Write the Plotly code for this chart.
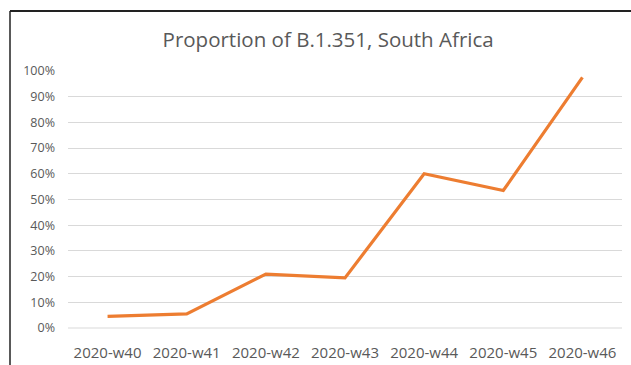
import plotly.graph_objects as go

weeks = ["2020-w40", "2020-w41", "2020-w42", "2020-w43", "2020-w44", "2020-w45", "2020-w46"]
proportion = [0.045, 0.055, 0.21, 0.195, 0.60, 0.535, 0.975]
y_ticks = [0, 0.1, 0.2, 0.3, 0.4, 0.5, 0.6, 0.7, 0.8, 0.9, 1.0]
y_tick_labels = ["0%", "10%", "20%", "30%", "40%", "50%", "60%", "70%", "80%", "90%", "100%"]

W, H = 631, 365
L, R, T, B = 68, 9, 71, 37

fig = go.Figure()
fig.add_trace(go.Scatter(
    x=weeks, y=proportion, mode="lines",
    line=dict(color="#ED7D31", width=3.2),
    showlegend=False,
))

font_family = "Open Sans, Liberation Sans, sans-serif"

fig.update_layout(
    width=W, height=H,
    margin=dict(l=L, r=R, t=T, b=B),
    paper_bgcolor="white", plot_bgcolor="white",
    title=dict(
        text="Proportion of B.1.351, South Africa",
        x=0.52, xanchor="center", xref="container",
        y=1 - 40 / H, yanchor="middle", yref="container",
        font=dict(family=font_family, size=20.5, color="#595959"),
    ),
    xaxis=dict(
        type="category", showgrid=False, zeroline=False, showline=False,
        ticks="", tickfont=dict(family=font_family, size=15, color="#595959"),
        range=[-0.5, 6.5], ticklabelstandoff=14, automargin=False,
    ),
    yaxis=dict(
        range=[0, 1], tickvals=y_ticks, ticktext=y_tick_labels,
        showgrid=True, gridcolor="#D9D9D9", gridwidth=1,
        zeroline=False, showline=False, ticks="",
        tickfont=dict(family=font_family, size=12.5, color="#595959"),
        ticklabelstandoff=12, automargin=False,
    ),
    shapes=[
        dict(type="line", xref="paper", yref="paper",
             x0=(10 - L) / (W - L - R), x1=(W - L) / (W - L - R),
             y0=(H - B - 11) / (H - T - B), y1=(H - B - 11) / (H - T - B),
             line=dict(color="#222222", width=2)),
        dict(type="line", xref="paper", yref="paper",
             x0=(10 - L) / (W - L - R), x1=(10 - L) / (W - L - R),
             y0=(H - B - 11) / (H - T - B), y1=-B / (H - T - B),
             line=dict(color="#222222", width=1.5)),
        dict(type="line", xref="paper", yref="paper",
             x0=0, x1=1, y0=0, y1=0,
             line=dict(color="#D9D9D9", width=1)),
    ],
)

fig.write_html("out.html")
